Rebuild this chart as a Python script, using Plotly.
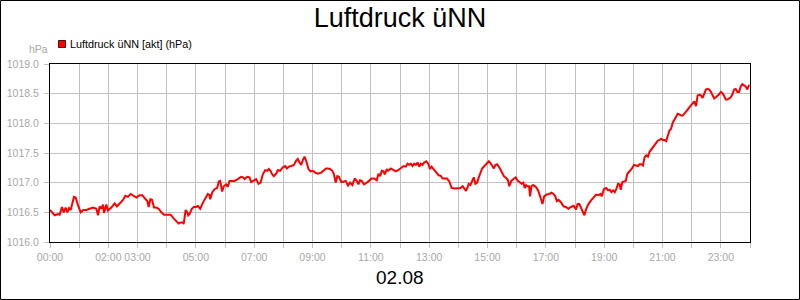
import plotly.graph_objects as go

# ---- data (hours since 00:00 on 02.08, air pressure in hPa) ----
hours = [
    0.0, 0.16, 0.274, 0.331, 0.411, 0.469, 0.537, 0.594, 0.651, 0.709, 0.823, 0.88, 0.96, 1.051, 1.143,
    1.246, 1.36, 1.474, 1.589, 1.646, 1.703, 1.76, 1.817, 1.851, 1.931, 1.989, 2.103, 2.217, 2.297, 2.389,
    2.503, 2.583, 2.674, 2.766, 2.846, 2.96, 3.074, 3.166, 3.246, 3.337, 3.383, 3.44, 3.497, 3.566, 3.646,
    3.726, 3.817, 3.909, 4.023, 4.137, 4.217, 4.331, 4.411, 4.48, 4.56, 4.583, 4.651, 4.709,
    4.74, 4.783, 4.863, 4.931, 5.011, 5.069, 5.149, 5.24, 5.354, 5.411, 5.469, 5.491, 5.56, 5.64, 5.731,
    5.789, 5.834, 5.903, 5.96, 6.04, 6.097, 6.154, 6.234, 6.326, 6.44, 6.554, 6.623, 6.669, 6.76, 6.84,
    6.897, 6.989, 7.069, 7.149, 7.217, 7.297, 7.377, 7.446, 7.503, 7.56, 7.606, 7.674, 7.754, 7.811, 7.891,
    7.983, 8.063, 8.12, 8.189, 8.269, 8.36, 8.44, 8.497, 8.554, 8.611, 8.669, 8.726, 8.783, 8.863, 8.931,
    9.011, 9.091, 9.183, 9.297, 9.389, 9.469, 9.526, 9.594,
    9.679, 9.736, 9.794, 9.851, 9.908, 9.989, 10.08, 10.138, 10.218, 10.287, 10.367, 10.447, 10.516, 10.573,
    10.63, 10.688, 10.768, 10.86, 10.94, 11.02, 11.112, 11.203, 11.261, 11.318, 11.375, 11.433, 11.479,
    11.547, 11.593, 11.685, 11.777, 11.857, 11.937, 12.029, 12.12, 12.201, 12.258, 12.315, 12.372, 12.43,
    12.487, 12.544, 12.602, 12.659, 12.716, 12.774, 12.831, 12.9, 12.968, 13.026, 13.083, 13.152, 13.232,
    13.312, 13.404, 13.461, 13.519, 13.61, 13.691, 13.771, 13.862, 13.977, 14.069, 14.149, 14.206, 14.264,
    14.321,
    14.356, 14.414, 14.471, 14.529, 14.586, 14.644, 14.701, 14.759, 14.816, 14.897, 14.966, 15.046, 15.103,
    15.161, 15.218, 15.276, 15.333, 15.425, 15.506, 15.563, 15.655, 15.701, 15.747, 15.816, 15.908, 15.966,
    16.023, 16.103, 16.172, 16.23, 16.276, 16.322, 16.368, 16.425, 16.46, 16.506, 16.563, 16.655, 16.736,
    16.805, 16.885, 16.943, 17.034, 17.115, 17.195, 17.264, 17.322, 17.379, 17.437, 17.517, 17.609, 17.69,
    17.77, 17.862, 17.954, 18.034, 18.092, 18.149, 18.207, 18.264, 18.322, 18.379, 18.46, 18.552, 18.644,
    18.724, 18.805, 18.874, 18.92, 18.989, 19.069,
    19.136, 19.193, 19.25, 19.307, 19.364, 19.42, 19.477, 19.534, 19.568, 19.625, 19.682, 19.739, 19.795,
    19.875, 19.955, 20.023, 20.102, 20.159, 20.216, 20.273, 20.33, 20.386, 20.443, 20.5, 20.557, 20.614,
    20.67, 20.727, 20.784, 20.841, 20.898, 20.955, 21.011, 21.068, 21.125, 21.182, 21.239, 21.295, 21.352,
    21.409, 21.466, 21.523, 21.58, 21.636, 21.693, 21.75, 21.807, 21.864, 21.92, 21.977, 22.034, 22.091,
    22.148, 22.205, 22.261, 22.318, 22.375, 22.432, 22.489, 22.545, 22.602, 22.659, 22.716, 22.773, 22.83,
    22.886, 22.943, 23.0, 23.057, 23.114, 23.17, 23.227, 23.284, 23.341, 23.398, 23.455, 23.511, 23.568,
    23.625, 23.682, 23.739, 23.795, 23.852, 23.909, 23.966,
]

pressure = [
    1016.54, 1016.45, 1016.47, 1016.46, 1016.59, 1016.50, 1016.58, 1016.50, 1016.57, 1016.54, 1016.76, 1016.75,
    1016.62, 1016.50, 1016.54, 1016.54, 1016.56, 1016.58, 1016.56, 1016.45, 1016.60, 1016.56, 1016.63, 1016.49,
    1016.63, 1016.53, 1016.58, 1016.65, 1016.60, 1016.65, 1016.71, 1016.78, 1016.76, 1016.81, 1016.78, 1016.75,
    1016.79, 1016.79, 1016.74, 1016.69, 1016.59, 1016.72, 1016.71, 1016.58, 1016.58, 1016.56, 1016.50, 1016.46,
    1016.46, 1016.46, 1016.41, 1016.35, 1016.31, 1016.33, 1016.33, 1016.30, 1016.54, 1016.50,
    1016.45, 1016.47, 1016.56, 1016.59, 1016.59, 1016.61, 1016.56, 1016.66, 1016.77, 1016.81, 1016.79, 1016.72,
    1016.83, 1016.89, 1016.91, 1017.02, 1017.03, 1016.85, 1016.94, 1016.97, 1016.93, 1017.03, 1017.03, 1017.03,
    1017.06, 1017.10, 1017.09, 1017.06, 1017.10, 1017.09, 1017.01, 1017.03, 1017.06, 1016.98, 1017.00, 1017.14,
    1017.21, 1017.20, 1017.23, 1017.20, 1017.15, 1017.11, 1017.15, 1017.21, 1017.20, 1017.26, 1017.28, 1017.24,
    1017.27, 1017.28, 1017.30, 1017.37, 1017.40, 1017.34, 1017.30, 1017.38, 1017.44, 1017.37, 1017.23, 1017.19,
    1017.20, 1017.17, 1017.15, 1017.17, 1017.20, 1017.24, 1017.24, 1017.23,
    1017.20, 1017.14, 1017.00, 1017.11, 1017.10, 1017.01, 1017.02, 1017.03, 1016.95, 1017.00, 1016.96, 1017.07,
    1017.03, 1016.97, 1017.04, 1017.03, 1016.97, 1017.00, 1017.03, 1017.07, 1017.07, 1017.04, 1017.15, 1017.11,
    1017.20, 1017.19, 1017.14, 1017.23, 1017.20, 1017.24, 1017.22, 1017.19, 1017.21, 1017.24, 1017.28, 1017.27,
    1017.32, 1017.30, 1017.32, 1017.28, 1017.32, 1017.30, 1017.34, 1017.27, 1017.32, 1017.30, 1017.34, 1017.36,
    1017.32, 1017.23, 1017.27, 1017.23, 1017.17, 1017.13, 1017.11, 1017.07, 1017.07, 1017.07, 1017.02, 1016.91,
    1016.90, 1016.90, 1016.91, 1016.94, 1016.89, 1016.86, 1016.93,
    1016.98, 1016.96, 1017.02, 1017.09, 1016.98, 1017.00, 1017.09, 1017.17, 1017.24, 1017.28, 1017.31, 1017.36,
    1017.33, 1017.28, 1017.24, 1017.30, 1017.31, 1017.24, 1017.17, 1017.11, 1017.07, 1017.04, 1016.94, 1017.03,
    1017.07, 1017.09, 1017.04, 1017.00, 1016.98, 1017.00, 1016.91, 1016.96, 1016.94, 1016.94, 1016.77, 1016.94,
    1016.96, 1016.93, 1016.87, 1016.77, 1016.64, 1016.77, 1016.80, 1016.81, 1016.83, 1016.81, 1016.77, 1016.69,
    1016.71, 1016.67, 1016.60, 1016.59, 1016.56, 1016.59, 1016.61, 1016.55, 1016.64, 1016.64, 1016.57, 1016.52,
    1016.45, 1016.55, 1016.64, 1016.70, 1016.75, 1016.80, 1016.79, 1016.81, 1016.77, 1016.89, 1016.91,
    1016.87, 1016.88, 1016.84, 1016.87, 1016.84, 1016.90, 1016.98, 1016.97, 1016.88, 1017.01, 1017.02, 1017.03,
    1017.15, 1017.19, 1017.24, 1017.30, 1017.29, 1017.28, 1017.31, 1017.31, 1017.29, 1017.43, 1017.46, 1017.44,
    1017.52, 1017.56, 1017.61, 1017.63, 1017.67, 1017.71, 1017.72, 1017.74, 1017.72, 1017.72, 1017.70, 1017.78,
    1017.88, 1017.91, 1018.01, 1018.06, 1018.10, 1018.16, 1018.15, 1018.13, 1018.13, 1018.16, 1018.19, 1018.23,
    1018.27, 1018.30, 1018.34, 1018.37, 1018.29, 1018.47, 1018.48, 1018.47, 1018.43, 1018.51, 1018.57, 1018.58,
    1018.57, 1018.53, 1018.46, 1018.42, 1018.44, 1018.46, 1018.49, 1018.53, 1018.51, 1018.46, 1018.40, 1018.40,
    1018.42, 1018.44, 1018.49, 1018.57, 1018.58, 1018.53, 1018.53, 1018.62, 1018.66, 1018.64, 1018.62, 1018.57,
    1018.65,
]

tick_hours = list(range(25))
tick_labels = ["00:00", "", "02:00", "03:00", "", "05:00", "", "07:00", "", "09:00", "", "11:00", "",
               "13:00", "", "15:00", "", "17:00", "", "19:00", "", "21:00", "", "23:00", ""]

title_text = "Luftdruck üNN"
series_name = "Luftdruck üNN [akt] (hPa)"
unit_text = "hPa"
date_text = "02.08"

# ---- layout geometry (pixels) ----
W, H = 800, 300
ML, MR, MT, MB = 50, 50, 64, 58
PW, PH = W - ML - MR, H - MT - MB

def px_x(x):
    return (x - ML) / PW

def px_y(y):
    return (H - MB - y) / PH

FONT = "Liberation Sans, Arial, sans-serif"
GRID = "#c0c0c0"
LABEL = "#a8a8a8"

fig = go.Figure()
fig.add_trace(go.Scatter(
    x=hours, y=pressure, mode="lines", name=series_name,
    line=dict(color="#ff0000", width=2), showlegend=False,
))

fig.update_layout(
    width=W, height=H,
    margin=dict(l=ML, r=MR, t=MT, b=MB, pad=0, autoexpand=False),
    paper_bgcolor="white", plot_bgcolor="white",
    font=dict(family=FONT, size=11, color=LABEL),
    title=dict(text=title_text, x=0.5, xanchor="center", xref="paper",
               y=1 - 18 / H, yref="container", yanchor="middle",
               font=dict(family=FONT, size=27, color="black")),
    showlegend=False,
)

fig.update_xaxes(
    range=[0, 24], tickmode="array", tickvals=tick_hours, ticktext=tick_labels,
    tickangle=0, automargin=False,
    showgrid=True, gridcolor=GRID, gridwidth=1,
    ticks="outside", ticklen=5, tickcolor=GRID, tickwidth=1,
    showline=True, linecolor="black", linewidth=1, mirror=True,
    tickfont=dict(family=FONT, size=10.5, color=LABEL), zeroline=False,
)
fig.update_yaxes(
    range=[1016.0, 1019.0], tick0=1016.0, dtick=0.5, tickformat=".1f",
    automargin=False,
    showgrid=True, gridcolor=GRID, gridwidth=1,
    ticks="outside", ticklen=5, tickcolor=GRID, tickwidth=1,
    ticklabelstandoff=3,
    showline=True, linecolor="black", linewidth=1, mirror=True,
    tickfont=dict(family=FONT, size=10.5, color=LABEL), zeroline=False,
)

# unit label above y axis
fig.add_annotation(text=unit_text, xref="paper", yref="paper",
                   x=px_x(50), y=px_y(49), xanchor="right", yanchor="middle",
                   showarrow=False, font=dict(family=FONT, size=10.5, color=LABEL))
# legend (square + text)
fig.add_shape(type="rect", xref="paper", yref="paper",
              x0=px_x(58.5), x1=px_x(65.5), y0=px_y(47.5), y1=px_y(40.5),
              fillcolor="#ff0000", line=dict(color="#600000", width=1))
fig.add_annotation(text=series_name, xref="paper", yref="paper",
                   x=px_x(68), y=px_y(44), xanchor="left", yanchor="middle",
                   showarrow=False, font=dict(family=FONT, size=10.8, color="black"))
# date label below x axis
fig.add_annotation(text=date_text, xref="paper", yref="paper",
                   x=0.5, y=px_y(277), xanchor="center", yanchor="middle",
                   showarrow=False, font=dict(family=FONT, size=19, color="black"))
# outer frame
fig.add_shape(type="rect", xref="paper", yref="paper",
              x0=px_x(0.5), x1=px_x(799.5), y0=px_y(299.5), y1=px_y(0.5),
              line=dict(color="black", width=1), fillcolor="rgba(0,0,0,0)", layer="above")

fig.write_html("out.html", config={"displayModeBar": False})
